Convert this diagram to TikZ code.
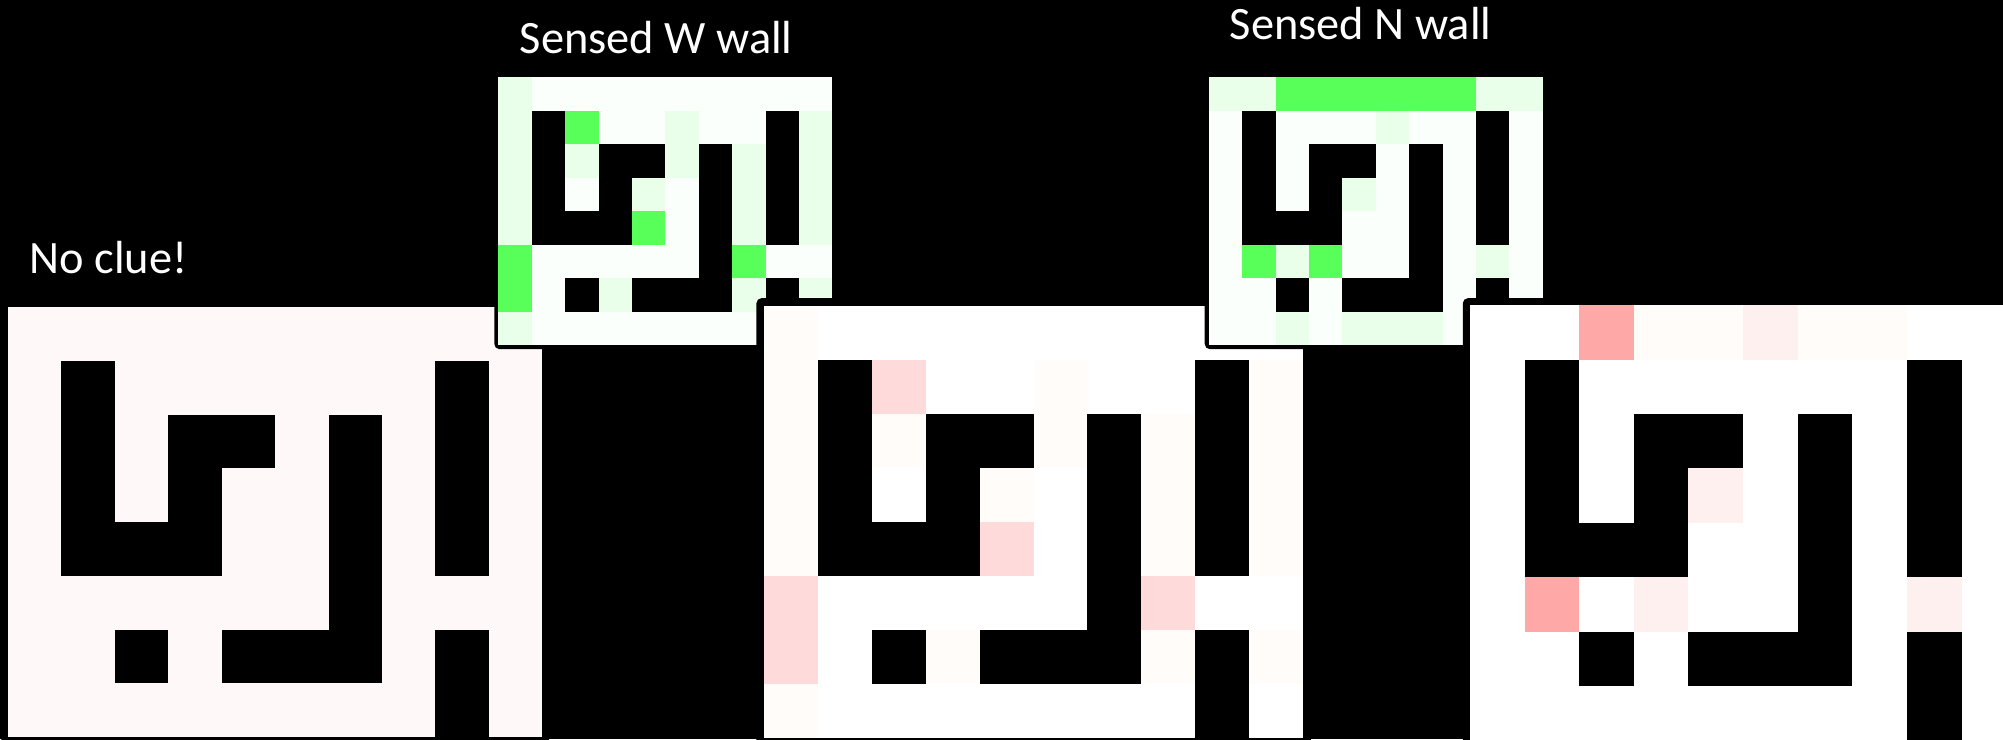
\documentclass[tikz,border=0pt]{standalone}
\usepackage{fontspec}
\setmainfont{Carlito}
\definecolor{senseg}{RGB}{88,255,88}
\definecolor{sensel}{RGB}{234,255,234}
\definecolor{sensew}{RGB}{251,255,251}
\definecolor{priorp}{RGB}{255,248,248}
\definecolor{postw}{RGB}{255,218,218}
\definecolor{postf}{RGB}{255,252,250}
\definecolor{postn}{RGB}{255,168,168}
\definecolor{postl}{RGB}{255,240,240}
\newcommand\mazewalls{1/1,8/1,1/2,3/2,4/2,6/2,8/2,1/3,3/3,6/3,8/3,1/4,2/4,3/4,6/4,8/4,6/5,2/6,4/6,5/6,6/6,8/6,8/7}
\tikzset{lbl/.style={anchor=base west,inner sep=0pt,text=white,font=\fontsize{13.2}{16}\selectfont},
  frame/.style={fill=black,rounded corners=1.5pt}}
\begin{document}
\begin{tikzpicture}[x=0.01cm,y=-0.01cm]
  \useasboundingbox (0,0) rectangle (2003,739);
  \fill[black] (0,0) rectangle (2003,739);
  \clip (0,0) rectangle (2003,739);
  \node[lbl] (noclue) at (29,273) {No clue!};
  \node[lbl] (sensedw) at (519,53) {Sensed W wall};
  \node[lbl] (sensedn) at (1229,39) {Sensed N wall};
  % prior
  \begin{scope}[xshift=0.08cm,yshift=-3.07cm,x=0.534cm,y=-0.537cm]
    \fill[frame] (-0.13,-0.13) rectangle (10.13,8.13);
    \fill[priorp] (0,0) rectangle (10,8);
    \foreach \c/\r in \mazewalls \fill (\c,\r) rectangle ++(1,1);
  \end{scope}
  % W sensor
  \begin{scope}[xshift=4.98cm,yshift=-0.77cm,x=0.334cm,y=-0.335cm]
    \fill[frame] (-0.12,-0.12) rectangle (10.12,8.12);
    \fill[sensew] (0,0) rectangle (10,8);
    \foreach \c/\r in {0/0,0/1,0/2,0/3,0/4,0/7,2/2,5/1,5/2,4/3,7/2,7/3,7/4,9/1,9/2,9/3,9/4,3/6,7/6,9/6}
      \fill[sensel] (\c,\r) rectangle ++(1,1);
    \foreach \c/\r in {2/1,4/4,0/5,0/6,7/5} \fill[senseg] (\c,\r) rectangle ++(1,1);
    \foreach \c/\r in \mazewalls \fill (\c,\r) rectangle ++(1,1);
  \end{scope}
  % after W
  \begin{scope}[xshift=7.64cm,yshift=-3.06cm,x=0.538cm,y=-0.539cm]
    \fill[frame] (-0.15,-0.15) rectangle (10.15,8.15);
    \fill[white] (0,0) rectangle (10,8);
    \foreach \c/\r in {0/0,0/1,0/2,0/3,0/4,0/7,2/2,5/1,5/2,4/3,7/2,7/3,7/4,9/1,9/2,9/3,9/4,3/6,7/6,9/6}
      \fill[postf] (\c,\r) rectangle ++(1,1);
    \foreach \c/\r in {2/1,4/4,0/5,0/6,7/5} \fill[postw] (\c,\r) rectangle ++(1,1);
    \foreach \c/\r in \mazewalls \fill (\c,\r) rectangle ++(1,1);
  \end{scope}
  % N sensor
  \begin{scope}[xshift=12.08cm,yshift=-0.77cm,x=0.334cm,y=-0.335cm]
    \fill[frame] (-0.12,-0.12) rectangle (10.12,8.12);
    \fill[sensew] (0,0) rectangle (10,8);
    \foreach \c/\r in {0/0,1/0,8/0,9/0,5/1,4/3,2/5,8/5,2/7,4/7,5/7,6/7}
      \fill[sensel] (\c,\r) rectangle ++(1,1);
    \foreach \c/\r in {2/0,3/0,4/0,5/0,6/0,7/0,1/5,3/5} \fill[senseg] (\c,\r) rectangle ++(1,1);
    \foreach \c/\r in \mazewalls \fill (\c,\r) rectangle ++(1,1);
  \end{scope}
  % after N
  \begin{scope}[xshift=14.69cm,yshift=-3.05cm,x=0.546cm,y=-0.544cm]
    \fill[frame] (-0.13,-0.13) rectangle (10.13,8.13);
    \fill[white] (0,0) rectangle (10,8);
    \foreach \c/\r in {3/0,4/0,6/0,7/0} \fill[postf] (\c,\r) rectangle ++(1,1);
    \foreach \c/\r in {5/0,4/3,3/5,8/5} \fill[postl] (\c,\r) rectangle ++(1,1);
    \foreach \c/\r in {2/0,1/5} \fill[postn] (\c,\r) rectangle ++(1,1);
    \foreach \c/\r in \mazewalls \fill (\c,\r) rectangle ++(1,1);
  \end{scope}
\end{tikzpicture}
\end{document}
